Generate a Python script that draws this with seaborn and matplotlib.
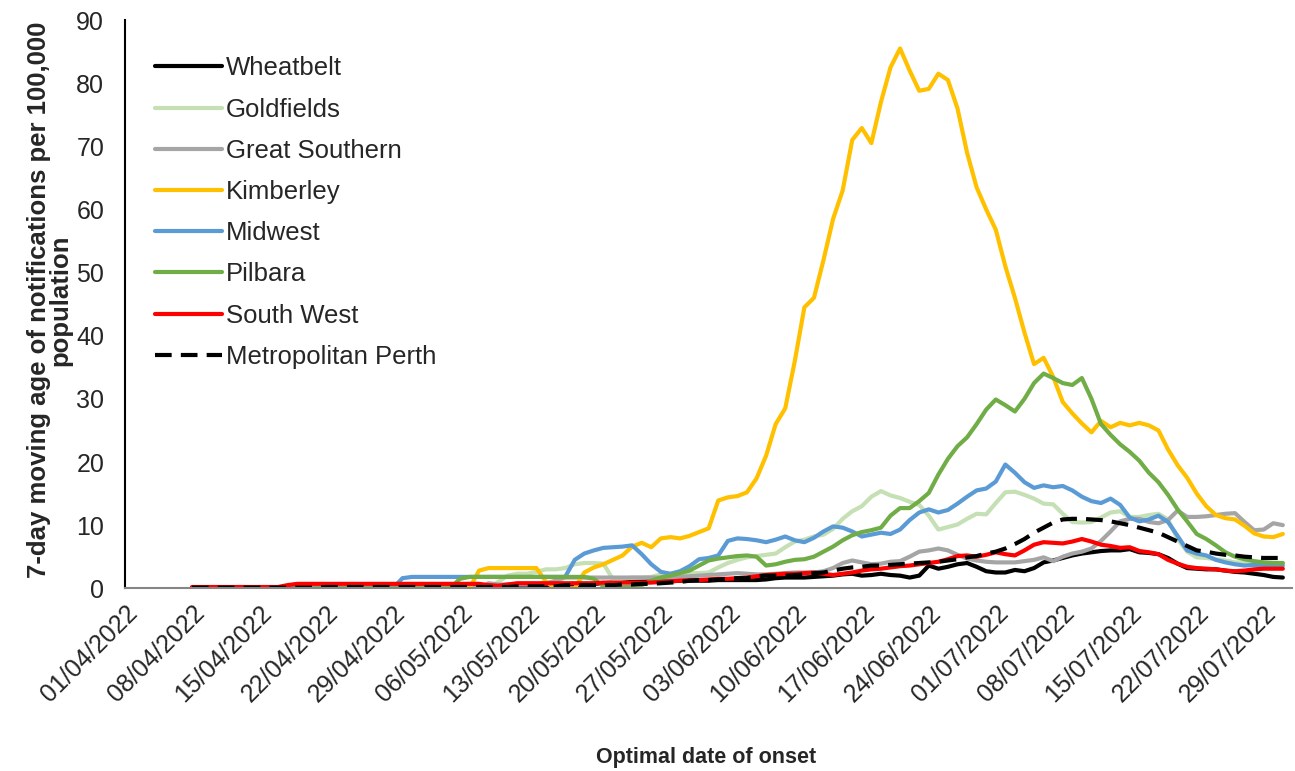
import numpy as np
import pandas as pd
import matplotlib
matplotlib.use("Agg")
import matplotlib.pyplot as plt
import seaborn as sns

# daily points, 08/04/2022 .. 31/07/2022
dates = pd.date_range("2022-04-08", "2022-07-31", freq="D")
tick_dates = pd.date_range("2022-04-01", "2022-07-29", freq="7D")

wheatbelt = [
    0, 0, 0, 0, 0, 0, 0, 0, 0, 0,
    0, 0, 0, 0, 0, 0, 0, 0, 0, 0,
    0.1, 0.1, 0.1, 0.1, 0.1, 0.1, 0.1, 0.1, 0.1, 0.1,
    0.2, 0.2, 0.2, 0.2, 0.2, 0.3, 0.3, 0.3, 0.3, 0.4,
    0.5, 0.6, 0.7, 0.8, 0.9, 1.0, 1.0, 1.1, 1.1, 1.1,
    1.1, 1.2, 1.2, 1.2, 1.2, 1.3, 1.3, 1.3, 1.3, 1.3,
    1.4, 1.6, 1.7, 1.7, 1.7, 1.8, 1.9, 2.0, 2.2, 2.3,
    2.0, 2.1, 2.3, 2.1, 2.0, 1.7, 2.0, 3.6, 3.1, 3.4,
    3.8, 4.0, 3.4, 2.7, 2.5, 2.5, 2.9, 2.7, 3.2, 4.1,
    4.4, 4.8, 5.2, 5.5, 5.7, 5.9, 6.0, 6.0, 6.2, 5.7,
    5.6, 5.4, 4.8, 3.9, 3.2, 3.1, 3.0, 3.0, 2.8, 2.6,
    2.5, 2.3, 2.1, 1.8, 1.7,
]
goldfields = [
    0, 0, 0, 0, 0, 0, 0, 0, 0, 0,
    0, 0, 0, 0, 0, 0, 0, 0, 0, 0,
    0, 0, 0, 0, 0, 0, 0, 0, 0, 0,
    0, 0, 1.0, 2.0, 2.3, 2.3, 2.6, 3.0, 3.0, 3.2,
    3.8, 4.0, 4.0, 3.9, 1.4, 1.5, 1.7, 1.7, 1.8, 2.2,
    2.3, 2.3, 2.4, 2.4, 2.5, 3.3, 4.0, 4.5, 4.9, 5.1,
    5.3, 5.5, 6.5, 7.4, 7.7, 8.2, 8.5, 9.4, 11.0, 12.2,
    13.0, 14.5, 15.4, 14.7, 14.3, 13.7, 13.2, 11.5, 9.3, 9.7,
    10.1, 11.0, 11.8, 11.7, 13.5, 15.2, 15.3, 14.8, 14.2, 13.4,
    13.3, 11.8, 10.5, 10.4, 10.5, 11.2, 12.0, 12.2, 11.3, 11.3,
    11.6, 11.8, 10.9, 7.8, 5.8, 4.9, 4.8, 4.6, 4.4, 4.1,
    4.1, 4.1, 4.0, 4.0, 4.0,
]
great_southern = [
    0, 0, 0, 0, 0, 0, 0, 0, 0, 0,
    0, 0, 0, 0, 0, 0, 0, 0, 0, 0,
    0, 0, 0, 0, 0, 0, 0, 0, 0, 0,
    0, 0.8, 0.6, 0.6, 0.6, 0.6, 0.6, 0.8, 1.2, 1.7,
    1.7, 1.7, 1.7, 1.7, 1.7, 1.7, 1.7, 1.7, 1.7, 1.7,
    1.7, 1.8, 1.9, 2.0, 2.1, 2.2, 2.3, 2.4, 2.3, 2.2,
    2.2, 2.3, 2.4, 2.5, 2.5, 2.5, 2.7, 3.2, 4.0, 4.4,
    4.1, 3.8, 3.9, 4.2, 4.3, 5.0, 5.8, 6.0, 6.3, 6.0,
    5.3, 4.7, 4.4, 4.2, 4.1, 4.1, 4.1, 4.3, 4.5, 4.9,
    4.3, 5.0, 5.5, 5.8, 6.3, 7.5, 9.0, 10.6, 11.0, 11.0,
    10.5, 10.3, 10.8, 12.3, 11.3, 11.3, 11.4, 11.6, 11.8, 11.9,
    10.5, 9.2, 9.3, 10.3, 10.0,
]
kimberley = [
    0, 0, 0, 0, 0, 0, 0, 0, 0, 0,
    0, 0, 0, 0, 0, 0, 0, 0, 0, 0,
    0, 0, 0, 0, 0, 0, 0, 0, 0, 0,
    2.8, 3.2, 3.2, 3.2, 3.2, 3.2, 3.2, 1.0, 0, 0,
    0, 2.5, 3.3, 3.8, 4.5, 5.2, 6.6, 7.2, 6.5, 7.9,
    8.1, 7.9, 8.3, 8.9, 9.5, 13.9, 14.4, 14.6, 15.2, 17.4,
    21.0, 26.0, 28.5, 36.0, 44.5, 46.0, 52.0, 58.5, 63.0, 71.0,
    72.9, 70.5, 77.0, 82.5, 85.5, 82.0, 78.8, 79.1, 81.5, 80.5,
    76.0, 69.0, 63.5, 60.0, 56.8, 51.0, 46.0, 40.5, 35.5, 36.5,
    33.5, 29.5, 27.7, 26.1, 24.7, 26.5, 25.5, 26.2, 25.8, 26.2,
    25.8, 25.0, 22.0, 19.5, 17.5, 15.0, 13.0, 11.6, 11.1, 10.9,
    9.9, 8.7, 8.2, 8.1, 8.6,
]
midwest = [
    0, 0, 0, 0, 0, 0, 0, 0, 0, 0,
    0, 0, 0, 0, 0, 0, 0, 0, 0, 0,
    0, 0, 1.6, 1.8, 1.8, 1.8, 1.8, 1.8, 1.8, 1.8,
    1.8, 1.8, 1.8, 1.8, 1.8, 1.8, 1.8, 1.8, 1.8, 1.8,
    4.5, 5.5, 6.0, 6.4, 6.5, 6.6, 6.8, 5.4, 3.8, 2.6,
    2.3, 2.7, 3.5, 4.6, 4.8, 5.2, 7.5, 7.9, 7.8, 7.6,
    7.3, 7.7, 8.2, 7.6, 7.3, 8.0, 9.0, 9.8, 9.6, 9.0,
    8.2, 8.5, 8.8, 8.6, 9.3, 10.8, 12.0, 12.5, 12.0, 12.4,
    13.4, 14.5, 15.5, 15.8, 16.9, 19.6, 18.3, 16.8, 15.9, 16.3,
    16.0, 16.2, 15.5, 14.5, 13.8, 13.5, 14.2, 13.2, 11.2, 10.6,
    10.9, 11.5, 10.5, 8.3, 6.0, 5.5, 5.2, 4.5, 4.1, 3.8,
    3.6, 3.7, 3.7, 3.6, 3.6,
]
pilbara = [
    0, 0, 0, 0, 0, 0, 0, 0, 0, 0,
    0, 0, 0, 0, 0, 0, 0, 0, 0, 0,
    0, 0, 0, 0, 0, 0, 0, 0, 1.5, 1.8,
    1.8, 1.8, 1.8, 1.8, 1.8, 1.8, 1.8, 1.8, 1.8, 1.8,
    1.8, 1.8, 1.5, 0.3, 0.2, 0.2, 0.2, 0.5, 1.2, 1.7,
    2.0, 2.4, 2.8, 3.6, 4.4, 4.7, 4.9, 5.1, 5.2, 5.0,
    3.6, 3.8, 4.2, 4.5, 4.6, 5.0, 5.8, 6.6, 7.6, 8.4,
    8.9, 9.2, 9.6, 11.5, 12.7, 12.7, 13.8, 15.1, 18.0, 20.5,
    22.5, 23.9, 26.0, 28.3, 29.9, 29.0, 28.0, 30.0, 32.5, 34.0,
    33.3, 32.5, 32.2, 33.3, 30.0, 26.0, 24.3, 22.8, 21.6, 20.2,
    18.3, 16.8, 14.8, 12.5, 10.6, 8.6, 7.8, 6.8, 5.7, 5.0,
    4.6, 4.3, 4.1, 4.0, 4.0,
]
south_west = [
    0.2, 0.2, 0.2, 0.2, 0.2, 0.2, 0.2, 0.2, 0.2, 0.2,
    0.5, 0.7, 0.7, 0.7, 0.7, 0.7, 0.7, 0.7, 0.7, 0.7,
    0.7, 0.7, 0.7, 0.7, 0.7, 0.7, 0.7, 0.7, 0.7, 0.7,
    0.7, 0.5, 0.4, 0.6, 0.8, 0.8, 0.8, 0.8, 0.8, 0.8,
    0.8, 0.8, 0.8, 0.9, 0.9, 0.9, 0.9, 0.9, 0.9, 1.0,
    1.1, 1.2, 1.3, 1.3, 1.4, 1.5, 1.5, 1.6, 1.7, 1.9,
    2.1, 2.2, 2.3, 2.3, 2.4, 2.5, 2.3, 2.1, 2.3, 2.5,
    2.8, 3.0, 3.1, 3.3, 3.5, 3.6, 3.8, 4.0, 4.2, 4.6,
    5.1, 5.2, 5.0, 5.3, 5.7, 5.4, 5.2, 6.0, 6.9, 7.3,
    7.2, 7.1, 7.4, 7.8, 7.4, 6.9, 6.7, 6.4, 6.5, 5.9,
    5.7, 5.4, 4.5, 3.9, 3.4, 3.2, 3.1, 3.0, 2.8, 2.7,
    2.8, 3.0, 3.1, 3.1, 3.1,
]
metro_perth = [
    0.1, 0.1, 0.1, 0.1, 0.1, 0.1, 0.1, 0.1, 0.1, 0.1,
    0.1, 0.1, 0.1, 0.1, 0.2, 0.2, 0.2, 0.2, 0.2, 0.2,
    0.2, 0.2, 0.2, 0.2, 0.2, 0.2, 0.2, 0.2, 0.2, 0.2,
    0.2, 0.2, 0.2, 0.2, 0.3, 0.3, 0.3, 0.3, 0.3, 0.5,
    0.5, 0.5, 0.5, 0.5, 0.5, 0.6, 0.6, 0.7, 0.7, 0.8,
    0.9, 1.0, 1.2, 1.3, 1.3, 1.4, 1.5, 1.6, 1.6, 1.9,
    2.0, 2.0, 2.0, 2.1, 2.2, 2.4, 2.5, 2.8, 3.1, 3.3,
    3.4, 3.6, 3.6, 3.7, 3.8, 3.9, 4.0, 4.1, 4.2, 4.4,
    4.6, 4.9, 5.1, 5.5, 5.8, 6.3, 7.0, 7.8, 8.8, 9.6,
    10.4, 10.9, 11.0, 11.0, 10.9, 10.8, 10.6, 10.3, 10.0, 9.6,
    9.2, 8.8, 8.1, 7.4, 6.7, 6.0, 5.8, 5.5, 5.3, 5.2,
    5.0, 4.9, 4.8, 4.8, 4.8,
]

regions = ["Wheatbelt", "Goldfields", "Great Southern", "Kimberley",
           "Midwest", "Pilbara", "South West", "Metropolitan Perth"]
series = [wheatbelt, goldfields, great_southern, kimberley,
          midwest, pilbara, south_west, metro_perth]
colors = ["#000000", "#C5E0B4", "#A5A5A5", "#FFC000",
          "#5B9BD5", "#70AD47", "#FF0000", "#000000"]

sns.set_style("white")
plt.rcParams["font.family"] = ["Liberation Sans", "DejaVu Sans"]

fig, ax = plt.subplots(figsize=(12.95, 7.71), dpi=100)
fig.subplots_adjust(left=0.0965, right=0.998, top=0.974, bottom=0.237)

for name, vals, col in zip(regions, series, colors):
    sns.lineplot(x=dates, y=vals, color=col, lw=3, label=name, ax=ax,
                 solid_capstyle="round", solid_joinstyle="round")
# metro perth is dashed
ax.lines[-1].set_dashes((4, 2.2))

ax.set_xlim(pd.Timestamp("2022-04-01"), pd.Timestamp("2022-08-01"))
ax.set_ylim(0, 90)
ax.set_yticks(np.arange(0, 91, 10))
ax.set_xticks(tick_dates)
ax.set_xticklabels([d.strftime("%d/%m/%Y") for d in tick_dates],
                   rotation=45, ha="right", rotation_mode="anchor")

ax.tick_params(axis="x", direction="out", length=5, width=1.3,
               color="#868686", labelsize=18, pad=4)
ax.tick_params(axis="y", direction="out", length=5, width=1.3,
               color="black", labelsize=18, pad=10)
for side in ["top", "right"]:
    ax.spines[side].set_visible(False)
ax.spines["bottom"].set_color("#868686")
ax.spines["bottom"].set_linewidth(1.5)
ax.spines["left"].set_color("black")
ax.spines["left"].set_linewidth(1.5)

ax.set_xlabel("")
ax.set_ylabel("7-day moving age of notifications per 100,000\npopulation",
              fontsize=18.5, fontweight="bold", linespacing=0.85)
ax.yaxis.set_label_coords(-0.045, 0.507)
fig.text(0.545, 0.018, "Optimal date of onset", ha="center", va="center",
         fontsize=15.5, fontweight="bold")

ax.legend(loc="upper left", bbox_to_anchor=(0.026, 0.936), frameon=False,
          fontsize=18.5, handlelength=2.6, handletextpad=0.16,
          labelspacing=0.67, borderaxespad=0, borderpad=0)

fig.savefig("out.png", dpi=100)
